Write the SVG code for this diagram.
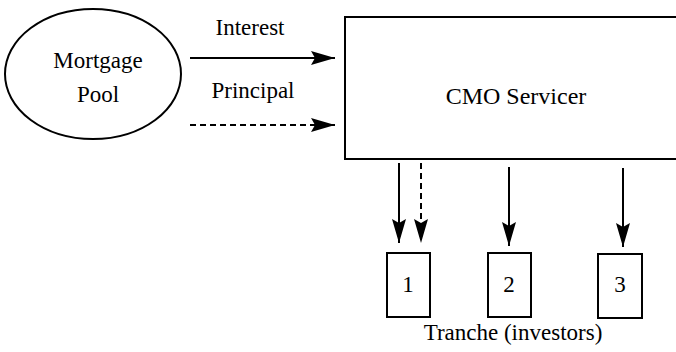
<svg xmlns="http://www.w3.org/2000/svg" width="676" height="352" viewBox="0 0 676 352">
<style>
  text { font-family: 'Liberation Serif', 'Times New Roman', serif; font-size: 23px; fill: #000; text-anchor: middle; }
  .ln { stroke: #000; stroke-width: 2; fill: none; }
  .dash { stroke-dasharray: 6 4; }
  .box { stroke: #000; stroke-width: 2; fill: #fff; }
</style>
<defs>
  <marker id="ah" markerUnits="userSpaceOnUse" markerWidth="26" markerHeight="16" refX="24" refY="7" orient="auto">
    <path d="M0,0 L24,7 L0,14 L4,7 Z" fill="#000"/>
  </marker>
</defs>
<rect width="676" height="352" fill="#fff"/>
<g id="mortgage-pool">
  <ellipse cx="93" cy="74" rx="88" ry="65" class="box"/>
  <text x="98" y="68">Mortgage</text>
  <text x="98" y="102">Pool</text>
</g>
<g id="cmo-servicer">
  <rect x="345" y="17" width="340" height="142" class="box"/>
  <text x="516" y="104" style="font-size:24px">CMO Servicer</text>
</g>
<g id="tranche-1">
  <rect x="387" y="253" width="43" height="64" class="box"/>
  <text x="408" y="292">1</text>
</g>
<g id="tranche-2">
  <rect x="488" y="253" width="43" height="64" class="box"/>
  <text x="509" y="292">2</text>
</g>
<g id="tranche-3">
  <rect x="598" y="254" width="44" height="64" class="box"/>
  <text x="620" y="292">3</text>
</g>
<text x="513" y="340">Tranche (investors)</text>
<g id="connectors">
  <line x1="190" y1="58" x2="335" y2="58" class="ln" marker-end="url(#ah)"/>
  <text x="250" y="35">Interest</text>
  <line x1="190" y1="125" x2="335" y2="125" class="ln dash" marker-end="url(#ah)"/>
  <text x="253" y="98">Principal</text>
  <line x1="399" y1="163" x2="399" y2="243" class="ln" marker-end="url(#ah)"/>
  <line x1="421" y1="163" x2="421" y2="243" class="ln dash" marker-end="url(#ah)"/>
  <line x1="509" y1="167" x2="509" y2="246" class="ln" marker-end="url(#ah)"/>
  <line x1="623" y1="168" x2="623" y2="247" class="ln" marker-end="url(#ah)"/>
</g>
</svg>
